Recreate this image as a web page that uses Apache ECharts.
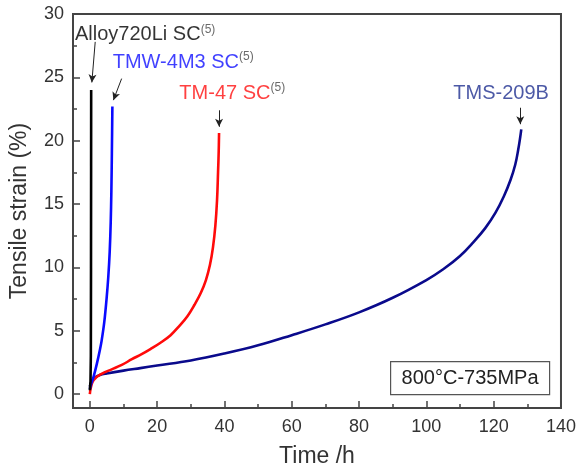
<!DOCTYPE html>
<html>
<head>
<meta charset="utf-8">
<script src="https://cdn.jsdelivr.net/npm/echarts@6/dist/echarts.min.js"></script>
<style>html,body{margin:0;padding:0;background:#fff}#c{width:579px;height:473px}</style>
</head>
<body>
<div id="c"></div>
<script>
// Data (time in h, tensile strain in %)
var alloy720Li = [[0,0.3],[0.2,1.0],[0.3,3],[0.35,10],[0.38,18],[0.4,24]];
var tmw4m3 = [[0,0.4],[0.4,0.8],[1.1,1.35],[2.1,2.4],[3.0,3.5],[3.5,4.2],[4.3,5.7],[5.0,7.6],[5.5,9.3],[5.9,11.2],[6.2,13.5],[6.4,16],[6.55,19],[6.7,22.7]];
var tm47 = [[0,0],[0.3,0.5],[1.1,1.1],[3.5,1.6],[6.5,1.95],[9.5,2.3],[12.5,2.75],[15.4,3.15],[18,3.55],[21,4.05],[24,4.65],[26.5,5.35],[29,6.15],[31.1,7.05],[33,8.0],[34.5,9.0],[35.7,10.2],[36.6,11.6],[37.3,13.3],[37.8,15.3],[38.1,17.5],[38.3,19.2],[38.4,20.6]];
var tms209b = [[0,0.6],[0.5,1.0],[1.5,1.3],[3,1.5],[5,1.62],[10,1.85],[15,2.05],[20,2.25],[30,2.65],[40,3.2],[50,3.85],[60,4.65],[70,5.5],[80,6.45],[90,7.6],[100,9.0],[105,9.85],[110,10.9],[114,12.0],[117.5,13.1],[120.5,14.3],[123,15.6],[125,16.9],[126.4,18.1],[127.3,19.3],[127.9,20.3],[128.2,20.9]];

var xMajor = [0,20,40,60,80,100,120,140];
var xMinor = [10,30,50,70,90,110,130];
var yMajor = [0,5,10,15,20,25,30];
var yMinor = [2.5,7.5,12.5,17.5,22.5,27.5];

// annotation arrows [from, to] in data coordinates
var arrows = [
  [[1.6,27.8],[0.6,24.6]],
  [[9.45,24.9],[7.0,23.2]],
  [[38.4,22.4],[38.4,21.1]],
  [[127.9,22.6],[127.9,21.3]]
];

var axisColor = '#444';
var chart = echarts.init(document.getElementById('c'), null, {renderer:'canvas'});

function sup(main, color){
  return {formatter: '{m|' + main + '}{s|(5)}', rich: {
    m: {fontSize: 20, color: color, fontFamily: 'Liberation Sans'},
    s: {fontSize: 12, color: '#444', fontFamily: 'Liberation Sans', verticalAlign: 'top', padding:[0,0,10,0]}
  }};
}

var labels = [
  {value:[-4.4,28.4], label: Object.assign({position:'right', distance:0}, sup('Alloy720Li SC','#000'))},
  {value:[6.8,26.2], label: Object.assign({position:'right', distance:0}, sup('TMW-4M3 SC','#1010ff'))},
  {value:[26.6,23.75], label: Object.assign({position:'right', distance:0}, sup('TM-47 SC','#ff1010'))},
  {value:[136.4,23.75], label: {position:'left', distance:0, formatter:'TMS-209B', fontSize:20, color:'#1f3090', fontFamily:'Liberation Sans'}}
];

var lineStyle = function(c){ return {color:c, width:2.6}; };

var option = {
  animation: false,
  backgroundColor: '#fff',
  grid: {left:71, right:16, top:14, bottom:62, show:true, borderColor:axisColor, borderWidth:2, backgroundColor:'transparent'},
  xAxis: [{
    type:'value', min:-5, max:140,
    name:'Time /h', nameLocation:'middle', nameGap:37,
    nameTextStyle:{fontSize:23, color:'#333', fontFamily:'Liberation Sans'},
    axisLine:{show:true, onZero:false, lineStyle:{color:axisColor, width:2}},
    axisTick:{show:true, inside:true, length:7, customValues:xMajor, lineStyle:{color:axisColor, width:1.5}},
    axisLabel:{customValues:xMajor, fontSize:18, color:'#333', margin:10, fontFamily:'Liberation Sans'},
    splitLine:{show:false}
  },{
    type:'value', min:-5, max:140, position:'bottom',
    axisLine:{show:false, onZero:false},
    axisTick:{show:true, inside:true, length:4, customValues:xMinor, lineStyle:{color:axisColor, width:1.5}},
    axisLabel:{show:false}, splitLine:{show:false}
  }],
  yAxis: [{
    type:'value', min:-1.1, max:30,
    name:'Tensile strain (%)', nameLocation:'middle', nameGap:42, nameRotate:90,
    nameTextStyle:{fontSize:23, color:'#333', fontFamily:'Liberation Sans'},
    axisLine:{show:true, onZero:false, lineStyle:{color:axisColor, width:2}},
    axisTick:{show:true, inside:true, length:7, customValues:yMajor, lineStyle:{color:axisColor, width:1.5}},
    axisLabel:{customValues:yMajor, fontSize:18, color:'#333', margin:9, fontFamily:'Liberation Sans'},
    splitLine:{show:false}
  },{
    type:'value', min:-1.1, max:30, position:'left',
    axisLine:{show:false, onZero:false},
    axisTick:{show:true, inside:true, length:4, customValues:yMinor, lineStyle:{color:axisColor, width:1.5}},
    axisLabel:{show:false}, splitLine:{show:false}
  }],
  series: [
    {name:'TMS-209B', type:'line', data:tms209b, showSymbol:false, smooth:0.4, lineStyle:lineStyle('#0a0a8c'), z:3},
    {name:'TM-47 SC', type:'line', data:tm47, showSymbol:false, smooth:0.4, lineStyle:lineStyle('#ff0a0a'), z:4},
    {name:'TMW-4M3 SC', type:'line', data:tmw4m3, showSymbol:false, smooth:0.3, lineStyle:lineStyle('#0a0aff'), z:5},
    {name:'Alloy720Li SC', type:'line', data:alloy720Li, showSymbol:false, smooth:false, lineStyle:lineStyle('#000'), z:6},
    {name:'labels', type:'scatter', data:labels, symbolSize:0, silent:true, z:10,
     label:{show:true},
     markLine:{silent:true, symbol:['none','arrow'], symbolSize:[6,8], animation:false,
       label:{show:false},
       lineStyle:{color:'#222', width:1, type:'solid'},
       data: arrows.map(function(a){ return [{coord:a[0]},{coord:a[1]}]; })
     }
    }
  ],
  graphic: [{
    type:'group', left:390, top:361,
    children:[
      {type:'rect', shape:{x:0,y:0,width:159,height:33}, style:{fill:'#fff', stroke:'#555', lineWidth:1.2}},
      {type:'text', x:79.5, y:17, style:{text:'800°C-735MPa', fontSize:20, fill:'#222', fontFamily:'Liberation Sans', align:'center', verticalAlign:'middle'}}
    ]
  }]
};
chart.setOption(option);
</script>
</body>
</html>
